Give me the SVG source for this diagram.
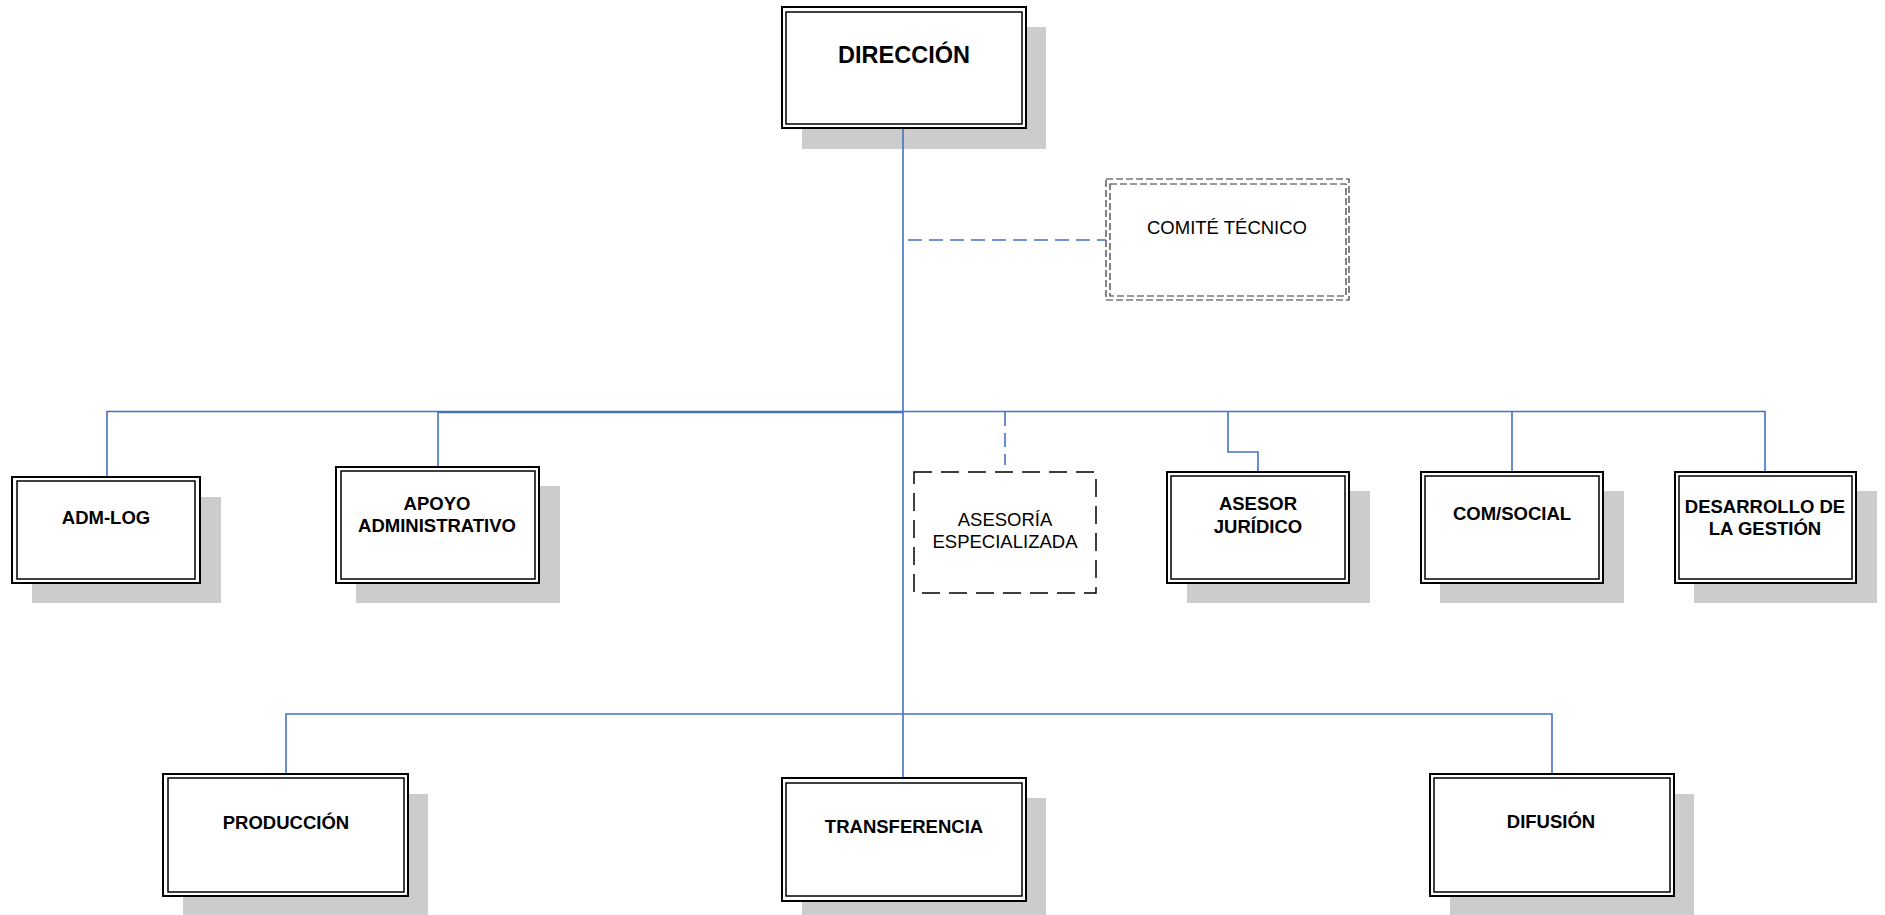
<svg xmlns="http://www.w3.org/2000/svg" width="1885" height="915" viewBox="0 0 1885 915">
<style>
.sh{fill:#cccccc;stroke:none}
.ob{fill:#ffffff;stroke:#000;stroke-width:2}
.ib{fill:none;stroke:#000;stroke-width:1.5}
.db{fill:#ffffff;stroke:#000;stroke-width:1.5;stroke-dasharray:18,9}
.cb{fill:#ffffff;stroke:#333;stroke-width:1.2;stroke-dasharray:7,3}
.cbi{fill:none;stroke:#333;stroke-width:1.2;stroke-dasharray:7,3}
.tb{font-family:"Liberation Sans",Arial,sans-serif;font-weight:bold;fill:#000;text-anchor:middle}
.tn{font-family:"Liberation Sans",Arial,sans-serif;fill:#000;text-anchor:middle}
.ln{fill:none;stroke:#4472c4;stroke-width:1.6}
.dl{fill:none;stroke:#4472c4;stroke-width:1.6;stroke-dasharray:14,7}
</style>
<rect width="1885" height="915" fill="#ffffff"/>
<g id="direccion">
<rect class="sh" x="802" y="27" width="244" height="122"/>
<rect class="ob" x="782" y="7" width="244" height="121"/>
<rect class="ib" x="786" y="12" width="236" height="112"/>
<text class="tb" x="904" y="63" font-size="23.5">DIRECCIÓN</text>
</g>
<g id="comite-tecnico">
<rect class="cb" x="1106" y="179" width="243" height="121"/>
<rect class="cbi" x="1110" y="184" width="236" height="112"/>
<text class="tn" x="1227" y="234" font-size="18.5">COMITÉ TÉCNICO</text>
</g>
<g id="adm-log">
<rect class="sh" x="32" y="497" width="189" height="106"/>
<rect class="ob" x="12" y="477" width="188" height="106"/>
<rect class="ib" x="17" y="481" width="178" height="98"/>
<text class="tb" x="106" y="524" font-size="18.5">ADM-LOG</text>
</g>
<g id="apoyo-administrativo">
<rect class="sh" x="356" y="486" width="204" height="117"/>
<rect class="ob" x="336" y="467" width="203" height="116"/>
<rect class="ib" x="341" y="471" width="194" height="108"/>
<text class="tb" x="437" y="510" font-size="18.5">APOYO</text>
<text class="tb" x="437" y="532" font-size="18.5">ADMINISTRATIVO</text>
</g>
<g id="asesoria-especializada">
<rect class="db" x="914" y="472" width="182" height="121"/>
<text class="tn" x="1005" y="526" font-size="18.5">ASESORÍA</text>
<text class="tn" x="1005" y="548" font-size="18.5">ESPECIALIZADA</text>
</g>
<g id="asesor-juridico">
<rect class="sh" x="1187" y="491" width="183" height="112"/>
<rect class="ob" x="1167" y="472" width="182" height="111"/>
<rect class="ib" x="1171" y="476" width="174" height="103"/>
<text class="tb" x="1258" y="510" font-size="18.5">ASESOR</text>
<text class="tb" x="1258" y="533" font-size="18.5">JURÍDICO</text>
</g>
<g id="com-social">
<rect class="sh" x="1440" y="491" width="184" height="112"/>
<rect class="ob" x="1421" y="472" width="182" height="111"/>
<rect class="ib" x="1425" y="476" width="174" height="103"/>
<text class="tb" x="1512" y="520" font-size="18.5">COM/SOCIAL</text>
</g>
<g id="desarrollo-gestion">
<rect class="sh" x="1694" y="491" width="183" height="112"/>
<rect class="ob" x="1675" y="472" width="181" height="111"/>
<rect class="ib" x="1679" y="476" width="173" height="103"/>
<text class="tb" x="1765" y="513" font-size="18.5">DESARROLLO DE</text>
<text class="tb" x="1765" y="535" font-size="18.5">LA GESTIÓN</text>
</g>
<g id="produccion">
<rect class="sh" x="183" y="794" width="245" height="121"/>
<rect class="ob" x="163" y="774" width="245" height="122"/>
<rect class="ib" x="168" y="778" width="236" height="114"/>
<text class="tb" x="286" y="829" font-size="18.5">PRODUCCIÓN</text>
</g>
<g id="transferencia">
<rect class="sh" x="802" y="798" width="244" height="117"/>
<rect class="ob" x="782" y="778" width="244" height="123"/>
<rect class="ib" x="786" y="783" width="236" height="113"/>
<text class="tb" x="904" y="833" font-size="18.5">TRANSFERENCIA</text>
</g>
<g id="difusion">
<rect class="sh" x="1450" y="794" width="244" height="121"/>
<rect class="ob" x="1430" y="774" width="244" height="122"/>
<rect class="ib" x="1434" y="778" width="236" height="114"/>
<text class="tb" x="1551" y="828" font-size="18.5">DIFUSIÓN</text>
</g>
<g id="connectors">
<path class="ln" d="M903 129 V777"/>
<path class="dl" d="M908 240 H1106"/>
<path class="ln" d="M107 476 V411.5 H1765 V471"/>
<path class="ln" d="M438 412.5 H903"/>
<path class="ln" d="M438 412 V466"/>
<path class="dl" d="M1005 412 V465"/>
<path class="ln" d="M1228 412 V452 H1258 V471"/>
<path class="ln" d="M1512 412 V471"/>
<path class="ln" d="M286 773 V714 H1552 V773"/>
</g>
</svg>
